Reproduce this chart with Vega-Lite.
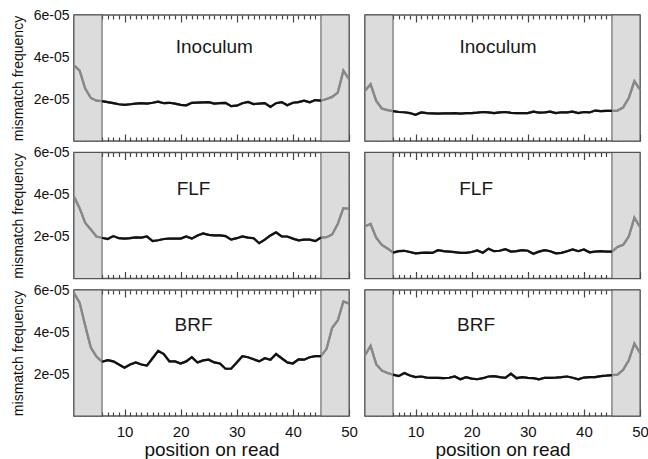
{
  "$schema": "https://vega.github.io/schema/vega-lite/v6.json",
  "background": "white",
  "padding": {"left": 10, "top": 7, "right": 0, "bottom": 0},
  "config": {
    "font": "Liberation Sans",
    "view": {"stroke": "#555", "strokeWidth": 1.5},
    "axis": {"grid": false, "domain": false, "tickColor": "#444", "tickWidth": 1.2, "labelFont": "Liberation Sans", "titleFont": "Liberation Sans", "labelColor": "#111", "titleColor": "#111", "titleFontWeight": "normal", "labelFlush": false, "labelOverlap": false, "labelBound": false, "zindex": 1}
  },
  "datasets": {
    "shade": [{"start": 1, "end": 6, "lo": 0, "hi": 6e-5}, {"start": 45, "end": 50, "lo": 0, "hi": 6e-5}],
    "inocL": [{"pos":1,"freq":3.6e-5},{"pos":2,"freq":3.35e-5},{"pos":3,"freq":2.5e-5},{"pos":4,"freq":2.05e-5},{"pos":5,"freq":1.92e-5},{"pos":6,"freq":1.9e-5},{"pos":7,"freq":1.85e-5},{"pos":8,"freq":1.8e-5},{"pos":9,"freq":1.75e-5},{"pos":10,"freq":1.72e-5},{"pos":11,"freq":1.75e-5},{"pos":12,"freq":1.78e-5},{"pos":13,"freq":1.8e-5},{"pos":14,"freq":1.78e-5},{"pos":15,"freq":1.82e-5},{"pos":16,"freq":1.87e-5},{"pos":17,"freq":1.8e-5},{"pos":18,"freq":1.82e-5},{"pos":19,"freq":1.78e-5},{"pos":20,"freq":1.72e-5},{"pos":21,"freq":1.7e-5},{"pos":22,"freq":1.82e-5},{"pos":23,"freq":1.83e-5},{"pos":24,"freq":1.84e-5},{"pos":25,"freq":1.85e-5},{"pos":26,"freq":1.78e-5},{"pos":27,"freq":1.8e-5},{"pos":28,"freq":1.82e-5},{"pos":29,"freq":1.66e-5},{"pos":30,"freq":1.68e-5},{"pos":31,"freq":1.8e-5},{"pos":32,"freq":1.86e-5},{"pos":33,"freq":1.76e-5},{"pos":34,"freq":1.78e-5},{"pos":35,"freq":1.8e-5},{"pos":36,"freq":1.62e-5},{"pos":37,"freq":1.8e-5},{"pos":38,"freq":1.85e-5},{"pos":39,"freq":1.7e-5},{"pos":40,"freq":1.82e-5},{"pos":41,"freq":1.85e-5},{"pos":42,"freq":1.92e-5},{"pos":43,"freq":1.84e-5},{"pos":44,"freq":1.95e-5},{"pos":45,"freq":1.92e-5},{"pos":46,"freq":2.0e-5},{"pos":47,"freq":2.1e-5},{"pos":48,"freq":2.3e-5},{"pos":49,"freq":3.35e-5},{"pos":50,"freq":2.95e-5}],
    "inocR": [{"pos":1,"freq":2.39e-5},{"pos":2,"freq":2.7e-5},{"pos":3,"freq":1.91e-5},{"pos":4,"freq":1.55e-5},{"pos":5,"freq":1.47e-5},{"pos":6,"freq":1.42e-5},{"pos":7,"freq":1.38e-5},{"pos":8,"freq":1.37e-5},{"pos":9,"freq":1.33e-5},{"pos":10,"freq":1.25e-5},{"pos":11,"freq":1.36e-5},{"pos":12,"freq":1.33e-5},{"pos":13,"freq":1.32e-5},{"pos":14,"freq":1.3e-5},{"pos":15,"freq":1.32e-5},{"pos":16,"freq":1.32e-5},{"pos":17,"freq":1.33e-5},{"pos":18,"freq":1.3e-5},{"pos":19,"freq":1.33e-5},{"pos":20,"freq":1.33e-5},{"pos":21,"freq":1.35e-5},{"pos":22,"freq":1.38e-5},{"pos":23,"freq":1.36e-5},{"pos":24,"freq":1.33e-5},{"pos":25,"freq":1.36e-5},{"pos":26,"freq":1.38e-5},{"pos":27,"freq":1.34e-5},{"pos":28,"freq":1.33e-5},{"pos":29,"freq":1.33e-5},{"pos":30,"freq":1.33e-5},{"pos":31,"freq":1.4e-5},{"pos":32,"freq":1.35e-5},{"pos":33,"freq":1.36e-5},{"pos":34,"freq":1.4e-5},{"pos":35,"freq":1.33e-5},{"pos":36,"freq":1.37e-5},{"pos":37,"freq":1.36e-5},{"pos":38,"freq":1.4e-5},{"pos":39,"freq":1.33e-5},{"pos":40,"freq":1.38e-5},{"pos":41,"freq":1.36e-5},{"pos":42,"freq":1.45e-5},{"pos":43,"freq":1.42e-5},{"pos":44,"freq":1.43e-5},{"pos":45,"freq":1.43e-5},{"pos":46,"freq":1.45e-5},{"pos":47,"freq":1.6e-5},{"pos":48,"freq":2.05e-5},{"pos":49,"freq":2.85e-5},{"pos":50,"freq":2.45e-5}],
    "flfL": [{"pos":1,"freq":3.9e-5},{"pos":2,"freq":3.35e-5},{"pos":3,"freq":2.65e-5},{"pos":4,"freq":2.33e-5},{"pos":5,"freq":2.0e-5},{"pos":6,"freq":1.94e-5},{"pos":7,"freq":1.88e-5},{"pos":8,"freq":2.02e-5},{"pos":9,"freq":1.92e-5},{"pos":10,"freq":1.9e-5},{"pos":11,"freq":1.92e-5},{"pos":12,"freq":1.96e-5},{"pos":13,"freq":1.95e-5},{"pos":14,"freq":2.0e-5},{"pos":15,"freq":1.78e-5},{"pos":16,"freq":1.82e-5},{"pos":17,"freq":1.88e-5},{"pos":18,"freq":1.9e-5},{"pos":19,"freq":1.9e-5},{"pos":20,"freq":1.9e-5},{"pos":21,"freq":2.0e-5},{"pos":22,"freq":1.9e-5},{"pos":23,"freq":2.05e-5},{"pos":24,"freq":2.15e-5},{"pos":25,"freq":2.08e-5},{"pos":26,"freq":2.05e-5},{"pos":27,"freq":2.05e-5},{"pos":28,"freq":2.02e-5},{"pos":29,"freq":1.85e-5},{"pos":30,"freq":1.92e-5},{"pos":31,"freq":2.0e-5},{"pos":32,"freq":1.95e-5},{"pos":33,"freq":1.92e-5},{"pos":34,"freq":1.68e-5},{"pos":35,"freq":1.85e-5},{"pos":36,"freq":2.05e-5},{"pos":37,"freq":2.2e-5},{"pos":38,"freq":2.0e-5},{"pos":39,"freq":2.0e-5},{"pos":40,"freq":1.9e-5},{"pos":41,"freq":1.82e-5},{"pos":42,"freq":1.85e-5},{"pos":43,"freq":1.85e-5},{"pos":44,"freq":1.78e-5},{"pos":45,"freq":1.95e-5},{"pos":46,"freq":1.97e-5},{"pos":47,"freq":2.1e-5},{"pos":48,"freq":2.6e-5},{"pos":49,"freq":3.35e-5},{"pos":50,"freq":3.32e-5}],
    "flfR": [{"pos":1,"freq":2.49e-5},{"pos":2,"freq":2.6e-5},{"pos":3,"freq":1.94e-5},{"pos":4,"freq":1.6e-5},{"pos":5,"freq":1.43e-5},{"pos":6,"freq":1.23e-5},{"pos":7,"freq":1.3e-5},{"pos":8,"freq":1.32e-5},{"pos":9,"freq":1.26e-5},{"pos":10,"freq":1.2e-5},{"pos":11,"freq":1.22e-5},{"pos":12,"freq":1.23e-5},{"pos":13,"freq":1.22e-5},{"pos":14,"freq":1.35e-5},{"pos":15,"freq":1.3e-5},{"pos":16,"freq":1.28e-5},{"pos":17,"freq":1.26e-5},{"pos":18,"freq":1.22e-5},{"pos":19,"freq":1.22e-5},{"pos":20,"freq":1.26e-5},{"pos":21,"freq":1.34e-5},{"pos":22,"freq":1.23e-5},{"pos":23,"freq":1.42e-5},{"pos":24,"freq":1.3e-5},{"pos":25,"freq":1.32e-5},{"pos":26,"freq":1.4e-5},{"pos":27,"freq":1.28e-5},{"pos":28,"freq":1.3e-5},{"pos":29,"freq":1.35e-5},{"pos":30,"freq":1.32e-5},{"pos":31,"freq":1.18e-5},{"pos":32,"freq":1.28e-5},{"pos":33,"freq":1.35e-5},{"pos":34,"freq":1.3e-5},{"pos":35,"freq":1.2e-5},{"pos":36,"freq":1.22e-5},{"pos":37,"freq":1.3e-5},{"pos":38,"freq":1.38e-5},{"pos":39,"freq":1.3e-5},{"pos":40,"freq":1.38e-5},{"pos":41,"freq":1.25e-5},{"pos":42,"freq":1.28e-5},{"pos":43,"freq":1.3e-5},{"pos":44,"freq":1.28e-5},{"pos":45,"freq":1.28e-5},{"pos":46,"freq":1.5e-5},{"pos":47,"freq":1.6e-5},{"pos":48,"freq":2.0e-5},{"pos":49,"freq":2.9e-5},{"pos":50,"freq":2.45e-5}],
    "brfL": [{"pos":1,"freq":5.86e-5},{"pos":2,"freq":5.4e-5},{"pos":3,"freq":4.3e-5},{"pos":4,"freq":3.26e-5},{"pos":5,"freq":2.83e-5},{"pos":6,"freq":2.58e-5},{"pos":7,"freq":2.66e-5},{"pos":8,"freq":2.6e-5},{"pos":9,"freq":2.45e-5},{"pos":10,"freq":2.3e-5},{"pos":11,"freq":2.45e-5},{"pos":12,"freq":2.55e-5},{"pos":13,"freq":2.45e-5},{"pos":14,"freq":2.4e-5},{"pos":15,"freq":2.75e-5},{"pos":16,"freq":3.1e-5},{"pos":17,"freq":2.95e-5},{"pos":18,"freq":2.6e-5},{"pos":19,"freq":2.6e-5},{"pos":20,"freq":2.5e-5},{"pos":21,"freq":2.6e-5},{"pos":22,"freq":2.8e-5},{"pos":23,"freq":2.55e-5},{"pos":24,"freq":2.65e-5},{"pos":25,"freq":2.68e-5},{"pos":26,"freq":2.55e-5},{"pos":27,"freq":2.5e-5},{"pos":28,"freq":2.25e-5},{"pos":29,"freq":2.25e-5},{"pos":30,"freq":2.55e-5},{"pos":31,"freq":2.85e-5},{"pos":32,"freq":2.8e-5},{"pos":33,"freq":2.7e-5},{"pos":34,"freq":2.6e-5},{"pos":35,"freq":2.75e-5},{"pos":36,"freq":2.68e-5},{"pos":37,"freq":2.95e-5},{"pos":38,"freq":2.75e-5},{"pos":39,"freq":2.55e-5},{"pos":40,"freq":2.5e-5},{"pos":41,"freq":2.7e-5},{"pos":42,"freq":2.68e-5},{"pos":43,"freq":2.8e-5},{"pos":44,"freq":2.85e-5},{"pos":45,"freq":2.85e-5},{"pos":46,"freq":3.2e-5},{"pos":47,"freq":4.2e-5},{"pos":48,"freq":4.55e-5},{"pos":49,"freq":5.45e-5},{"pos":50,"freq":5.35e-5}],
    "brfR": [{"pos":1,"freq":2.9e-5},{"pos":2,"freq":3.34e-5},{"pos":3,"freq":2.47e-5},{"pos":4,"freq":2.16e-5},{"pos":5,"freq":2.05e-5},{"pos":6,"freq":1.97e-5},{"pos":7,"freq":1.9e-5},{"pos":8,"freq":2.05e-5},{"pos":9,"freq":1.93e-5},{"pos":10,"freq":1.85e-5},{"pos":11,"freq":1.88e-5},{"pos":12,"freq":1.83e-5},{"pos":13,"freq":1.82e-5},{"pos":14,"freq":1.82e-5},{"pos":15,"freq":1.8e-5},{"pos":16,"freq":1.82e-5},{"pos":17,"freq":1.88e-5},{"pos":18,"freq":1.75e-5},{"pos":19,"freq":1.85e-5},{"pos":20,"freq":1.78e-5},{"pos":21,"freq":1.75e-5},{"pos":22,"freq":1.8e-5},{"pos":23,"freq":1.88e-5},{"pos":24,"freq":1.9e-5},{"pos":25,"freq":1.85e-5},{"pos":26,"freq":1.82e-5},{"pos":27,"freq":2.02e-5},{"pos":28,"freq":1.8e-5},{"pos":29,"freq":1.85e-5},{"pos":30,"freq":1.82e-5},{"pos":31,"freq":1.8e-5},{"pos":32,"freq":1.75e-5},{"pos":33,"freq":1.82e-5},{"pos":34,"freq":1.82e-5},{"pos":35,"freq":1.83e-5},{"pos":36,"freq":1.85e-5},{"pos":37,"freq":1.88e-5},{"pos":38,"freq":1.82e-5},{"pos":39,"freq":1.75e-5},{"pos":40,"freq":1.83e-5},{"pos":41,"freq":1.85e-5},{"pos":42,"freq":1.85e-5},{"pos":43,"freq":1.9e-5},{"pos":44,"freq":1.92e-5},{"pos":45,"freq":1.95e-5},{"pos":46,"freq":1.97e-5},{"pos":47,"freq":2.2e-5},{"pos":48,"freq":2.65e-5},{"pos":49,"freq":3.45e-5},{"pos":50,"freq":3.0e-5}]
  },
  "columns": 2,
  "spacing": {"row": 11.5, "column": 16},
  "bounds": "flush",
  "concat": [
    {
      "width": 275, "height": 126,
      "layer": [
        {"data": {"name": "shade"}, "mark": {"type": "rect", "fill": "#dcdcdc", "stroke": "#555", "strokeWidth": 1},
         "encoding": {
           "x": {"field": "start", "type": "quantitative", "scale": {"domain": [1, 50], "nice": false, "zero": false}, "axis": {"orient": "bottom", "values": [10,20,30,40,50], "offset": -7, "tickSize": 7, "labels": false, "title": null}},
           "x2": {"field": "end"},
           "y": {"field": "lo", "type": "quantitative", "scale": {"domain": [0, 0.00006], "nice": false}, "axis": {"orient": "left", "values": [2e-5,4e-5,6e-5], "offset": -7, "tickSize": 7, "labelExpr": "round(datum.value*100000) + 'e-05'", "labelFontSize": 14, "labelPadding": 5, "title": "mismatch frequency", "titleFontSize": 14, "titlePadding": 8}},
           "y2": {"field": "hi"}
         }},
        {"data": {"name": "inocL"}, "mark": {"type": "line", "color": "#888", "strokeWidth": 2.2},
         "encoding": {
           "x": {"field": "pos", "type": "quantitative", "axis": {"orient": "bottom", "values": [1,2,3,4,5,6,7,8,9,11,12,13,14,15,16,17,18,19,21,22,23,24,25,26,27,28,29,31,32,33,34,35,36,37,38,39,41,42,43,44,45,46,47,48,49], "offset": -4, "tickSize": 4, "labels": false, "title": null}},
           "y": {"field": "freq", "type": "quantitative", "axis": {"orient": "left", "values": [5e-6,1e-5,1.5e-5,2.5e-5,3e-5,3.5e-5,4.5e-5,5e-5,5.5e-5], "offset": -4, "tickSize": 4, "labels": false, "title": null}}
         }},
        {"data": {"name": "inocL"}, "mark": {"type": "line", "color": "#888", "strokeWidth": 2.2},
         "encoding": {
           "x": {"field": "pos", "type": "quantitative", "axis": {"orient": "top", "values": [10,20,30,40], "offset": -7, "tickSize": 7, "labels": false, "title": null}},
           "y": {"field": "freq", "type": "quantitative", "axis": {"orient": "right", "values": [2e-5,4e-5], "offset": -7, "tickSize": 7, "labels": false, "title": null}}
         }},
        {"data": {"name": "inocL"}, "transform": [{"filter": "datum.pos >= 6 && datum.pos <= 45"}], "mark": {"type": "line", "color": "#111", "strokeWidth": 2.2},
         "encoding": {
           "x": {"field": "pos", "type": "quantitative", "axis": {"orient": "top", "values": [1,2,3,4,5,6,7,8,9,11,12,13,14,15,16,17,18,19,21,22,23,24,25,26,27,28,29,31,32,33,34,35,36,37,38,39,41,42,43,44,45,46,47,48,49], "offset": -4, "tickSize": 4, "labels": false, "title": null}},
           "y": {"field": "freq", "type": "quantitative", "axis": {"orient": "right", "values": [5e-6,1e-5,1.5e-5,2.5e-5,3e-5,3.5e-5,4.5e-5,5e-5,5.5e-5], "offset": -4, "tickSize": 4, "labels": false, "title": null}}
         }},
        {"data": {"values": [{"label": "Inoculum"}]}, "mark": {"type": "text", "fontSize": 19, "font": "Liberation Sans", "color": "#1a1a1a"},
         "encoding": {"x": {"datum": 26, "type": "quantitative", "axis": null}, "y": {"datum": 0.0000449, "type": "quantitative", "axis": null}, "text": {"field": "label"}}}
      ],
      "resolve": {"axis": {"x": "independent", "y": "independent"}}
    },
    {
      "width": 275, "height": 126,
      "layer": [
        {"data": {"name": "shade"}, "mark": {"type": "rect", "fill": "#dcdcdc", "stroke": "#555", "strokeWidth": 1},
         "encoding": {
           "x": {"field": "start", "type": "quantitative", "scale": {"domain": [1, 50], "nice": false, "zero": false}, "axis": {"orient": "bottom", "values": [10,20,30,40,50], "offset": -7, "tickSize": 7, "labels": false, "title": null}},
           "x2": {"field": "end"},
           "y": {"field": "lo", "type": "quantitative", "scale": {"domain": [0, 0.00006], "nice": false}, "axis": {"orient": "left", "values": [2e-5,4e-5], "offset": -7, "tickSize": 7, "labels": false, "title": null}},
           "y2": {"field": "hi"}
         }},
        {"data": {"name": "inocR"}, "mark": {"type": "line", "color": "#888", "strokeWidth": 2.2},
         "encoding": {
           "x": {"field": "pos", "type": "quantitative", "axis": {"orient": "bottom", "values": [1,2,3,4,5,6,7,8,9,11,12,13,14,15,16,17,18,19,21,22,23,24,25,26,27,28,29,31,32,33,34,35,36,37,38,39,41,42,43,44,45,46,47,48,49], "offset": -4, "tickSize": 4, "labels": false, "title": null}},
           "y": {"field": "freq", "type": "quantitative", "axis": {"orient": "left", "values": [5e-6,1e-5,1.5e-5,2.5e-5,3e-5,3.5e-5,4.5e-5,5e-5,5.5e-5], "offset": -4, "tickSize": 4, "labels": false, "title": null}}
         }},
        {"data": {"name": "inocR"}, "mark": {"type": "line", "color": "#888", "strokeWidth": 2.2},
         "encoding": {
           "x": {"field": "pos", "type": "quantitative", "axis": {"orient": "top", "values": [10,20,30,40], "offset": -7, "tickSize": 7, "labels": false, "title": null}},
           "y": {"field": "freq", "type": "quantitative", "axis": {"orient": "right", "values": [2e-5,4e-5], "offset": -7, "tickSize": 7, "labels": false, "title": null}}
         }},
        {"data": {"name": "inocR"}, "transform": [{"filter": "datum.pos >= 6 && datum.pos <= 45"}], "mark": {"type": "line", "color": "#111", "strokeWidth": 2.2},
         "encoding": {
           "x": {"field": "pos", "type": "quantitative", "axis": {"orient": "top", "values": [1,2,3,4,5,6,7,8,9,11,12,13,14,15,16,17,18,19,21,22,23,24,25,26,27,28,29,31,32,33,34,35,36,37,38,39,41,42,43,44,45,46,47,48,49], "offset": -4, "tickSize": 4, "labels": false, "title": null}},
           "y": {"field": "freq", "type": "quantitative", "axis": {"orient": "right", "values": [5e-6,1e-5,1.5e-5,2.5e-5,3e-5,3.5e-5,4.5e-5,5e-5,5.5e-5], "offset": -4, "tickSize": 4, "labels": false, "title": null}}
         }},
        {"data": {"values": [{"label": "Inoculum"}]}, "mark": {"type": "text", "fontSize": 19, "font": "Liberation Sans", "color": "#1a1a1a"},
         "encoding": {"x": {"datum": 24.7, "type": "quantitative", "axis": null}, "y": {"datum": 0.0000449, "type": "quantitative", "axis": null}, "text": {"field": "label"}}}
      ],
      "resolve": {"axis": {"x": "independent", "y": "independent"}}
    },
    {
      "width": 275, "height": 126,
      "layer": [
        {"data": {"name": "shade"}, "mark": {"type": "rect", "fill": "#dcdcdc", "stroke": "#555", "strokeWidth": 1},
         "encoding": {
           "x": {"field": "start", "type": "quantitative", "scale": {"domain": [1, 50], "nice": false, "zero": false}, "axis": {"orient": "bottom", "values": [10,20,30,40,50], "offset": -7, "tickSize": 7, "labels": false, "title": null}},
           "x2": {"field": "end"},
           "y": {"field": "lo", "type": "quantitative", "scale": {"domain": [0, 0.00006], "nice": false}, "axis": {"orient": "left", "values": [2e-5,4e-5,6e-5], "offset": -7, "tickSize": 7, "labelExpr": "round(datum.value*100000) + 'e-05'", "labelFontSize": 14, "labelPadding": 5, "title": "mismatch frequency", "titleFontSize": 14, "titlePadding": 8}},
           "y2": {"field": "hi"}
         }},
        {"data": {"name": "flfL"}, "mark": {"type": "line", "color": "#888", "strokeWidth": 2.2},
         "encoding": {
           "x": {"field": "pos", "type": "quantitative", "axis": {"orient": "bottom", "values": [1,2,3,4,5,6,7,8,9,11,12,13,14,15,16,17,18,19,21,22,23,24,25,26,27,28,29,31,32,33,34,35,36,37,38,39,41,42,43,44,45,46,47,48,49], "offset": -4, "tickSize": 4, "labels": false, "title": null}},
           "y": {"field": "freq", "type": "quantitative", "axis": {"orient": "left", "values": [5e-6,1e-5,1.5e-5,2.5e-5,3e-5,3.5e-5,4.5e-5,5e-5,5.5e-5], "offset": -4, "tickSize": 4, "labels": false, "title": null}}
         }},
        {"data": {"name": "flfL"}, "mark": {"type": "line", "color": "#888", "strokeWidth": 2.2},
         "encoding": {
           "x": {"field": "pos", "type": "quantitative", "axis": {"orient": "top", "values": [10,20,30,40], "offset": -7, "tickSize": 7, "labels": false, "title": null}},
           "y": {"field": "freq", "type": "quantitative", "axis": {"orient": "right", "values": [2e-5,4e-5], "offset": -7, "tickSize": 7, "labels": false, "title": null}}
         }},
        {"data": {"name": "flfL"}, "transform": [{"filter": "datum.pos >= 6 && datum.pos <= 45"}], "mark": {"type": "line", "color": "#111", "strokeWidth": 2.2},
         "encoding": {
           "x": {"field": "pos", "type": "quantitative", "axis": {"orient": "top", "values": [1,2,3,4,5,6,7,8,9,11,12,13,14,15,16,17,18,19,21,22,23,24,25,26,27,28,29,31,32,33,34,35,36,37,38,39,41,42,43,44,45,46,47,48,49], "offset": -4, "tickSize": 4, "labels": false, "title": null}},
           "y": {"field": "freq", "type": "quantitative", "axis": {"orient": "right", "values": [5e-6,1e-5,1.5e-5,2.5e-5,3e-5,3.5e-5,4.5e-5,5e-5,5.5e-5], "offset": -4, "tickSize": 4, "labels": false, "title": null}}
         }},
        {"data": {"values": [{"label": "FLF"}]}, "mark": {"type": "text", "fontSize": 19, "font": "Liberation Sans", "color": "#1a1a1a"},
         "encoding": {"x": {"datum": 22.3, "type": "quantitative", "axis": null}, "y": {"datum": 0.0000428, "type": "quantitative", "axis": null}, "text": {"field": "label"}}}
      ],
      "resolve": {"axis": {"x": "independent", "y": "independent"}}
    },
    {
      "width": 275, "height": 126,
      "layer": [
        {"data": {"name": "shade"}, "mark": {"type": "rect", "fill": "#dcdcdc", "stroke": "#555", "strokeWidth": 1},
         "encoding": {
           "x": {"field": "start", "type": "quantitative", "scale": {"domain": [1, 50], "nice": false, "zero": false}, "axis": {"orient": "bottom", "values": [10,20,30,40,50], "offset": -7, "tickSize": 7, "labels": false, "title": null}},
           "x2": {"field": "end"},
           "y": {"field": "lo", "type": "quantitative", "scale": {"domain": [0, 0.00006], "nice": false}, "axis": {"orient": "left", "values": [2e-5,4e-5], "offset": -7, "tickSize": 7, "labels": false, "title": null}},
           "y2": {"field": "hi"}
         }},
        {"data": {"name": "flfR"}, "mark": {"type": "line", "color": "#888", "strokeWidth": 2.2},
         "encoding": {
           "x": {"field": "pos", "type": "quantitative", "axis": {"orient": "bottom", "values": [1,2,3,4,5,6,7,8,9,11,12,13,14,15,16,17,18,19,21,22,23,24,25,26,27,28,29,31,32,33,34,35,36,37,38,39,41,42,43,44,45,46,47,48,49], "offset": -4, "tickSize": 4, "labels": false, "title": null}},
           "y": {"field": "freq", "type": "quantitative", "axis": {"orient": "left", "values": [5e-6,1e-5,1.5e-5,2.5e-5,3e-5,3.5e-5,4.5e-5,5e-5,5.5e-5], "offset": -4, "tickSize": 4, "labels": false, "title": null}}
         }},
        {"data": {"name": "flfR"}, "mark": {"type": "line", "color": "#888", "strokeWidth": 2.2},
         "encoding": {
           "x": {"field": "pos", "type": "quantitative", "axis": {"orient": "top", "values": [10,20,30,40], "offset": -7, "tickSize": 7, "labels": false, "title": null}},
           "y": {"field": "freq", "type": "quantitative", "axis": {"orient": "right", "values": [2e-5,4e-5], "offset": -7, "tickSize": 7, "labels": false, "title": null}}
         }},
        {"data": {"name": "flfR"}, "transform": [{"filter": "datum.pos >= 6 && datum.pos <= 45"}], "mark": {"type": "line", "color": "#111", "strokeWidth": 2.2},
         "encoding": {
           "x": {"field": "pos", "type": "quantitative", "axis": {"orient": "top", "values": [1,2,3,4,5,6,7,8,9,11,12,13,14,15,16,17,18,19,21,22,23,24,25,26,27,28,29,31,32,33,34,35,36,37,38,39,41,42,43,44,45,46,47,48,49], "offset": -4, "tickSize": 4, "labels": false, "title": null}},
           "y": {"field": "freq", "type": "quantitative", "axis": {"orient": "right", "values": [5e-6,1e-5,1.5e-5,2.5e-5,3e-5,3.5e-5,4.5e-5,5e-5,5.5e-5], "offset": -4, "tickSize": 4, "labels": false, "title": null}}
         }},
        {"data": {"values": [{"label": "FLF"}]}, "mark": {"type": "text", "fontSize": 19, "font": "Liberation Sans", "color": "#1a1a1a"},
         "encoding": {"x": {"datum": 20.8, "type": "quantitative", "axis": null}, "y": {"datum": 0.0000428, "type": "quantitative", "axis": null}, "text": {"field": "label"}}}
      ],
      "resolve": {"axis": {"x": "independent", "y": "independent"}}
    },
    {
      "width": 275, "height": 126,
      "layer": [
        {"data": {"name": "shade"}, "mark": {"type": "rect", "fill": "#dcdcdc", "stroke": "#555", "strokeWidth": 1},
         "encoding": {
           "x": {"field": "start", "type": "quantitative", "scale": {"domain": [1, 50], "nice": false, "zero": false}, "axis": {"orient": "bottom", "values": [10,20,30,40,50], "offset": -7, "tickSize": 7, "labelFontSize": 15, "labelPadding": 8, "title": "position on read", "titleFontSize": 19, "titlePadding": 1}},
           "x2": {"field": "end"},
           "y": {"field": "lo", "type": "quantitative", "scale": {"domain": [0, 0.00006], "nice": false}, "axis": {"orient": "left", "values": [2e-5,4e-5,6e-5], "offset": -7, "tickSize": 7, "labelExpr": "round(datum.value*100000) + 'e-05'", "labelFontSize": 14, "labelPadding": 5, "title": "mismatch frequency", "titleFontSize": 14, "titlePadding": 8}},
           "y2": {"field": "hi"}
         }},
        {"data": {"name": "brfL"}, "mark": {"type": "line", "color": "#888", "strokeWidth": 2.2},
         "encoding": {
           "x": {"field": "pos", "type": "quantitative", "axis": {"orient": "bottom", "values": [1,2,3,4,5,6,7,8,9,11,12,13,14,15,16,17,18,19,21,22,23,24,25,26,27,28,29,31,32,33,34,35,36,37,38,39,41,42,43,44,45,46,47,48,49], "offset": -4, "tickSize": 4, "labels": false, "title": null}},
           "y": {"field": "freq", "type": "quantitative", "axis": {"orient": "left", "values": [5e-6,1e-5,1.5e-5,2.5e-5,3e-5,3.5e-5,4.5e-5,5e-5,5.5e-5], "offset": -4, "tickSize": 4, "labels": false, "title": null}}
         }},
        {"data": {"name": "brfL"}, "mark": {"type": "line", "color": "#888", "strokeWidth": 2.2},
         "encoding": {
           "x": {"field": "pos", "type": "quantitative", "axis": {"orient": "top", "values": [10,20,30,40], "offset": -7, "tickSize": 7, "labels": false, "title": null}},
           "y": {"field": "freq", "type": "quantitative", "axis": {"orient": "right", "values": [2e-5,4e-5], "offset": -7, "tickSize": 7, "labels": false, "title": null}}
         }},
        {"data": {"name": "brfL"}, "transform": [{"filter": "datum.pos >= 6 && datum.pos <= 45"}], "mark": {"type": "line", "color": "#111", "strokeWidth": 2.2},
         "encoding": {
           "x": {"field": "pos", "type": "quantitative", "axis": {"orient": "top", "values": [1,2,3,4,5,6,7,8,9,11,12,13,14,15,16,17,18,19,21,22,23,24,25,26,27,28,29,31,32,33,34,35,36,37,38,39,41,42,43,44,45,46,47,48,49], "offset": -4, "tickSize": 4, "labels": false, "title": null}},
           "y": {"field": "freq", "type": "quantitative", "axis": {"orient": "right", "values": [5e-6,1e-5,1.5e-5,2.5e-5,3e-5,3.5e-5,4.5e-5,5e-5,5.5e-5], "offset": -4, "tickSize": 4, "labels": false, "title": null}}
         }},
        {"data": {"values": [{"label": "BRF"}]}, "mark": {"type": "text", "fontSize": 19, "font": "Liberation Sans", "color": "#1a1a1a"},
         "encoding": {"x": {"datum": 22.3, "type": "quantitative", "axis": null}, "y": {"datum": 0.0000432, "type": "quantitative", "axis": null}, "text": {"field": "label"}}}
      ],
      "resolve": {"axis": {"x": "independent", "y": "independent"}}
    },
    {
      "width": 275, "height": 126,
      "layer": [
        {"data": {"name": "shade"}, "mark": {"type": "rect", "fill": "#dcdcdc", "stroke": "#555", "strokeWidth": 1},
         "encoding": {
           "x": {"field": "start", "type": "quantitative", "scale": {"domain": [1, 50], "nice": false, "zero": false}, "axis": {"orient": "bottom", "values": [10,20,30,40,50], "offset": -7, "tickSize": 7, "labelFontSize": 15, "labelPadding": 8, "title": "position on read", "titleFontSize": 19, "titlePadding": 1}},
           "x2": {"field": "end"},
           "y": {"field": "lo", "type": "quantitative", "scale": {"domain": [0, 0.00006], "nice": false}, "axis": {"orient": "left", "values": [2e-5,4e-5], "offset": -7, "tickSize": 7, "labels": false, "title": null}},
           "y2": {"field": "hi"}
         }},
        {"data": {"name": "brfR"}, "mark": {"type": "line", "color": "#888", "strokeWidth": 2.2},
         "encoding": {
           "x": {"field": "pos", "type": "quantitative", "axis": {"orient": "bottom", "values": [1,2,3,4,5,6,7,8,9,11,12,13,14,15,16,17,18,19,21,22,23,24,25,26,27,28,29,31,32,33,34,35,36,37,38,39,41,42,43,44,45,46,47,48,49], "offset": -4, "tickSize": 4, "labels": false, "title": null}},
           "y": {"field": "freq", "type": "quantitative", "axis": {"orient": "left", "values": [5e-6,1e-5,1.5e-5,2.5e-5,3e-5,3.5e-5,4.5e-5,5e-5,5.5e-5], "offset": -4, "tickSize": 4, "labels": false, "title": null}}
         }},
        {"data": {"name": "brfR"}, "mark": {"type": "line", "color": "#888", "strokeWidth": 2.2},
         "encoding": {
           "x": {"field": "pos", "type": "quantitative", "axis": {"orient": "top", "values": [10,20,30,40], "offset": -7, "tickSize": 7, "labels": false, "title": null}},
           "y": {"field": "freq", "type": "quantitative", "axis": {"orient": "right", "values": [2e-5,4e-5], "offset": -7, "tickSize": 7, "labels": false, "title": null}}
         }},
        {"data": {"name": "brfR"}, "transform": [{"filter": "datum.pos >= 6 && datum.pos <= 45"}], "mark": {"type": "line", "color": "#111", "strokeWidth": 2.2},
         "encoding": {
           "x": {"field": "pos", "type": "quantitative", "axis": {"orient": "top", "values": [1,2,3,4,5,6,7,8,9,11,12,13,14,15,16,17,18,19,21,22,23,24,25,26,27,28,29,31,32,33,34,35,36,37,38,39,41,42,43,44,45,46,47,48,49], "offset": -4, "tickSize": 4, "labels": false, "title": null}},
           "y": {"field": "freq", "type": "quantitative", "axis": {"orient": "right", "values": [5e-6,1e-5,1.5e-5,2.5e-5,3e-5,3.5e-5,4.5e-5,5e-5,5.5e-5], "offset": -4, "tickSize": 4, "labels": false, "title": null}}
         }},
        {"data": {"values": [{"label": "BRF"}]}, "mark": {"type": "text", "fontSize": 19, "font": "Liberation Sans", "color": "#1a1a1a"},
         "encoding": {"x": {"datum": 20.8, "type": "quantitative", "axis": null}, "y": {"datum": 0.0000432, "type": "quantitative", "axis": null}, "text": {"field": "label"}}}
      ],
      "resolve": {"axis": {"x": "independent", "y": "independent"}}
    }
  ]
}
